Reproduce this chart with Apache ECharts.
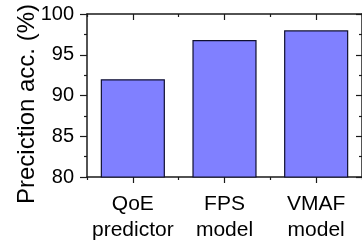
<!DOCTYPE html>
<html><head><meta charset="utf-8">
<script src="https://cdn.jsdelivr.net/npm/echarts@6/dist/echarts.min.js"></script>
<style>html,body{margin:0;padding:0;background:#fff}#c{width:362px;height:243px}</style>
</head><body><div id="c"></div>
<script>
const categories = ['QoE\npredictor', 'FPS\nmodel', 'VMAF\nmodel'];
const accuracy = [92.0, 96.8, 98.0];
const yTicks = { min: 80, max: 100, interval: 5 };
const yTitle = 'Preciction acc. (%)';

const FONT = '"Liberation Sans", Arial, sans-serif';
const AX = '#1a1a1a';
const chart = echarts.init(document.getElementById('c'), null, { renderer: 'canvas' });
function xAx(pos, align, len, inside, showLine, showLabel) {
  return {
    type: 'category', data: categories, position: pos,
    axisLine: { show: showLine, lineStyle: { color: AX, width: 1.5 } },
    axisTick: { show: true, alignWithLabel: align, inside: inside, length: len, lineStyle: { color: AX, width: 1.2 } },
    axisLabel: { show: showLabel, interval: 0, color: '#000', fontFamily: FONT, fontSize: 21, lineHeight: 26, margin: 14 },
    splitLine: { show: false }
  };
}
chart.setOption({
  animation: false,
  grid: { left: 87, top: 14, right: -2, bottom: 66, containLabel: false },
  graphic: [{
    type: 'text', x: 27, y: 104, rotation: Math.PI / 2,
    style: { text: yTitle, fill: '#000', font: '24px ' + FONT, textAlign: 'center', textVerticalAlign: 'middle' }
  }],
  xAxis: [
    xAx('bottom', true, 6, false, true, true),
    xAx('bottom', false, 3, false, false, false),
    xAx('top', true, 6, true, true, false),
    xAx('top', false, 3, true, false, false)
  ],
  yAxis: [
    {
      type: 'value', position: 'left', min: yTicks.min, max: yTicks.max, interval: yTicks.interval,
      axisLine: { show: true, lineStyle: { color: AX, width: 1.5 } },
      axisTick: { show: true, inside: false, length: 7, lineStyle: { color: AX, width: 1.2 } },
      minorTick: { show: true, splitNumber: 2, length: 3, lineStyle: { color: AX, width: 1.2 } },
      axisLabel: { color: '#000', fontFamily: FONT, fontSize: 20, margin: 13 },
      splitLine: { show: false }
    },
    {
      type: 'value', position: 'right', min: yTicks.min, max: yTicks.max, interval: yTicks.interval,
      axisLine: { show: true, lineStyle: { color: AX, width: 1.5 } },
      axisTick: { show: true, inside: true, length: 6, lineStyle: { color: AX, width: 1.2 } },
      minorTick: { show: true, splitNumber: 2, length: 3, lineStyle: { color: AX, width: 1.2 } },
      axisLabel: { show: false },
      splitLine: { show: false }
    }
  ],
  series: [{
    type: 'bar', xAxisIndex: 0, yAxisIndex: 0, data: accuracy, barWidth: '70%',
    itemStyle: { color: '#8080ff', borderColor: '#101030', borderWidth: 1.2 }
  }]
});
</script></body></html>
